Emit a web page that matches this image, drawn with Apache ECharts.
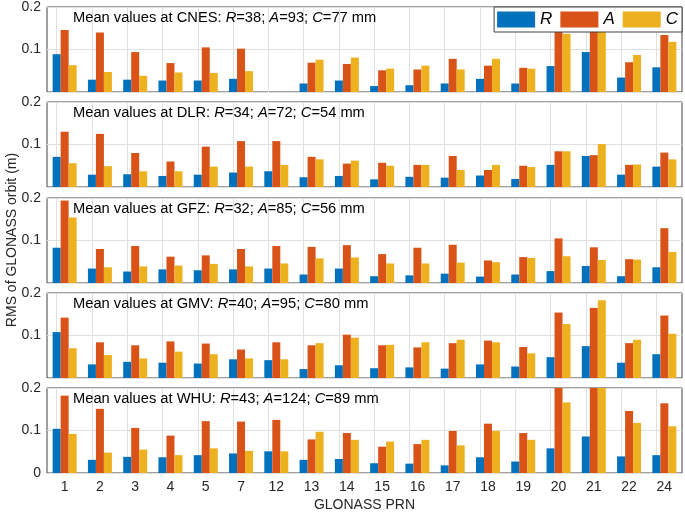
<!DOCTYPE html>
<html><head><meta charset="utf-8">
<script src="https://cdn.jsdelivr.net/npm/echarts@6/dist/echarts.min.js"></script>
<style>html,body{margin:0;padding:0;background:#fff}#c{width:685px;height:513px}</style>
</head><body><div id="c"></div>
<script>
const cats = ['1','2','3','4','5','7','12','13','14','15','16','17','18','19','20','21','22','24'];
const centers = ['CNES','DLR','GFZ','GMV','WHU'];
const meanR = [38, 34, 32, 40, 43];
const meanA = [93, 72, 85, 95, 124];
const meanC = [77, 54, 56, 80, 89];

const cnesR = [0.089,0.029,0.029,0.027,0.027,0.031,null,0.020,0.027,0.014,0.016,0.020,0.031,0.020,0.061,0.094,0.034,0.058];
const cnesA = [0.146,0.140,0.094,0.068,0.105,0.102,null,0.069,0.066,0.051,0.053,0.078,0.062,0.057,0.160,0.180,0.070,0.134];
const cnesC = [0.063,0.047,0.038,0.046,0.045,0.049,null,0.076,0.081,0.055,0.062,0.053,0.078,0.055,0.137,0.160,0.087,0.118];

const dlrR = [0.071,0.029,0.030,0.026,0.029,0.034,0.037,0.023,0.026,0.018,0.024,0.022,0.027,0.019,0.052,0.073,0.029,0.048];
const dlrA = [0.130,0.125,0.080,0.060,0.095,0.108,0.108,0.071,0.055,0.057,0.052,0.073,0.040,0.050,0.084,0.075,0.052,0.081];
const dlrC = [0.056,0.049,0.037,0.037,0.048,0.048,0.052,0.065,0.062,0.050,0.052,0.040,0.052,0.047,0.084,0.101,0.053,0.065];

const gfzR = [0.083,0.034,0.027,0.032,0.030,0.032,0.034,0.020,0.034,0.016,0.018,0.022,0.015,0.020,0.028,0.040,0.016,0.037];
const gfzA = [0.194,0.080,0.087,0.062,0.065,0.080,0.087,0.085,0.089,0.068,0.083,0.090,0.053,0.061,0.105,0.084,0.056,0.129];
const gfzC = [0.154,0.037,0.039,0.041,0.045,0.039,0.046,0.058,0.060,0.046,0.046,0.048,0.049,0.059,0.063,0.054,0.055,0.073];

const gmvR = [0.108,0.032,0.038,0.036,0.034,0.044,0.042,0.021,0.030,0.023,0.025,0.022,0.032,0.027,0.049,0.075,0.036,0.056];
const gmvA = [0.142,0.084,0.077,0.086,0.081,0.067,0.084,0.077,0.102,0.077,0.072,0.082,0.088,0.073,0.154,0.165,0.082,0.147];
const gmvC = [0.070,0.054,0.046,0.062,0.056,0.046,0.044,0.082,0.095,0.078,0.084,0.090,0.084,0.058,0.127,0.183,0.090,0.104];

const whuR = [0.104,0.031,0.038,0.037,0.042,0.046,0.051,0.031,0.033,0.023,0.022,0.018,0.037,0.027,0.058,0.086,0.039,0.042];
const whuA = [0.182,0.151,0.106,0.088,0.122,0.121,0.125,0.079,0.094,0.062,0.068,0.099,0.116,0.094,0.210,0.240,0.146,0.164];
const whuC = [0.092,0.048,0.055,0.042,0.058,0.052,0.051,0.097,0.078,0.074,0.078,0.065,0.099,0.078,0.166,0.220,0.118,0.110];

const seriesR = [cnesR, dlrR, gfzR, gmvR, whuR];
const seriesA = [cnesA, dlrA, gfzA, gmvA, whuA];
const seriesC = [cnesC, dlrC, gfzC, gmvC, whuC];

const FONT = 'Liberation Sans, Arial, Helvetica, sans-serif';
const colors = {R:'#0072BD', A:'#D95319', C:'#EDB120'};
const tops = [7, 102, 198, 293, 388];
const H = 85;

const grids = [], xAxes = [], yAxes = [], series = [], titles = [];
for (let i = 0; i < 5; i++) {
  grids.push({left: 47, right: 3, top: tops[i], height: H, show: true, borderColor: '#404040', borderWidth: 1,
    backgroundColor: 'transparent', containLabel: false, outerBoundsMode: 'none'});
  xAxes.push({
    type: 'category', gridIndex: i, data: cats,
    axisLine: {show: false}, axisTick: {show: false},
    axisLabel: {show: i === 4, fontSize: 14, color: '#262626', fontFamily: FONT, margin: 7},
    splitLine: {show: false},
    name: i === 4 ? 'GLONASS PRN' : '', nameLocation: 'middle', nameGap: 25,
    nameTextStyle: {fontSize: 14, color: '#262626', fontFamily: FONT}
  });
  yAxes.push({
    type: 'value', gridIndex: i, min: 0, max: 0.2, interval: 0.1,
    axisLine: {show: false}, axisTick: {show: false},
    axisLabel: {fontSize: 14, color: '#262626', fontFamily: FONT, margin: 6,
      formatter: v => (Math.abs(v) < 1e-9 ? (i === 4 ? '0' : '') : v.toFixed(1))},
    splitLine: {show: true, lineStyle: {color: '#e0e0e0', width: 1}}
  });
  const common = {type: 'bar', xAxisIndex: i, yAxisIndex: i, barGap: '0%', barCategoryGap: '32%', clip: true};
  series.push(Object.assign({}, common, {name: 'R', data: seriesR[i], itemStyle: {color: colors.R},
    markLine: {silent: true, symbol: 'none', z: 1, animation: false, label: {show: false},
      lineStyle: {color: '#e0e0e0', type: 'solid', width: 1},
      data: cats.map(c => ({xAxis: c}))}}));
  series.push(Object.assign({}, common, {name: 'A', data: seriesA[i], itemStyle: {color: colors.A}}));
  series.push(Object.assign({}, common, {name: 'C', data: seriesC[i], itemStyle: {color: colors.C}}));
  titles.push({
    left: 73, top: tops[i] + 3, padding: 0,
    text: `{n|Mean values at ${centers[i]}: }{i|R}{n|=${meanR[i]}; }{i|A}{n|=${meanA[i]}; }{i|C}{n|=${meanC[i]} mm}`,
    textStyle: {fontWeight: 'normal', rich: {
      n: {fontSize: 14.7, color: '#000', fontFamily: FONT, fontWeight: 'normal'},
      i: {fontSize: 14.7, color: '#000', fontFamily: FONT, fontStyle: 'italic', fontWeight: 'normal'}
    }}
  });
}

const chart = echarts.init(document.getElementById('c'), null, {renderer: 'canvas'});
chart.setOption({
  animation: false,
  backgroundColor: '#fff',
  title: titles,
  legend: {
    data: ['R', 'A', 'C'], right: 3, top: 7, orient: 'horizontal',
    icon: 'rect', itemWidth: 38, itemHeight: 16, itemGap: 8,
    padding: [4, 4, 4, 3], borderColor: '#404040', borderWidth: 1, backgroundColor: '#fff',
    textStyle: {fontSize: 17, fontStyle: 'italic', color: '#000', fontFamily: FONT},
    selectedMode: false
  },
  graphic: [{
    type: 'text', x: 12, y: 240, rotation: Math.PI / 2,
    style: {text: 'RMS of GLONASS orbit (m)', fontSize: 14, fill: '#262626', fontFamily: FONT,
      align: 'center', verticalAlign: 'middle'}
  }],
  grid: grids, xAxis: xAxes, yAxis: yAxes, series: series
});
</script></body></html>
